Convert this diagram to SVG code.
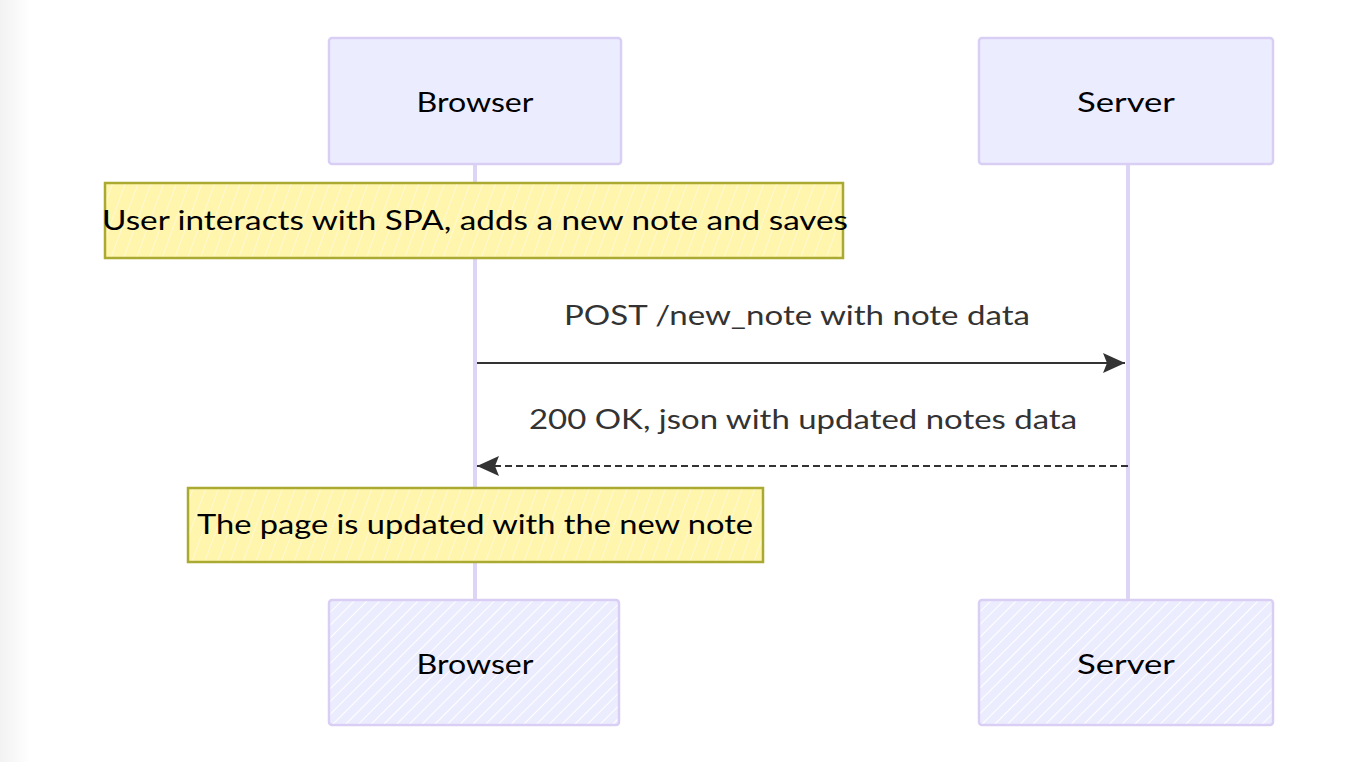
<svg xmlns="http://www.w3.org/2000/svg" width="1357" height="762" viewBox="0 0 1357 762">
<style>
.actor{fill:#ECECFF;stroke:#d9cff5;stroke-width:2.5}
.actorB{fill:url(#hatchA);stroke:#d9cff5;stroke-width:2.5}
.note{fill:url(#hatchN);stroke:#aaaa33;stroke-width:2.5}
.life{stroke:#ddd4f6;stroke-width:4}
.t{font-family:"Comic Sans MS","Lato","Open Sans",sans-serif;font-size:26px;fill:#000;text-anchor:middle}
.m{font-family:"Comic Sans MS","Lato","Open Sans",sans-serif;font-size:26px;fill:#333;text-anchor:middle}
.msg{stroke:#333;stroke-width:2;fill:none}
</style>
<defs>
<linearGradient id="edge" x1="0" x2="1" y1="0" y2="0">
<stop offset="0" stop-color="#f2f2f2"/><stop offset="1" stop-color="#ffffff"/>
</linearGradient>
<pattern id="hatchA" patternUnits="userSpaceOnUse" width="9" height="9" patternTransform="rotate(45)">
<rect width="9" height="9" fill="#ECECFF"/>
<line x1="0" y1="0" x2="0" y2="9" stroke="#ffffff" stroke-width="2"/>
</pattern>
<pattern id="hatchN" patternUnits="userSpaceOnUse" width="12" height="12" patternTransform="rotate(20)">
<rect width="12" height="12" fill="#fff5ad"/>
<line x1="0" y1="0" x2="0" y2="12" stroke="#fffbe0" stroke-width="1.5"/>
</pattern>
<marker id="arrow" viewBox="0 0 22 20" refX="22" refY="10" markerWidth="22" markerHeight="20" markerUnits="userSpaceOnUse" orient="auto">
<path d="M0,0 L22,10 L0,20 L4,10 Z" fill="#333"/>
</marker>
</defs>
<rect x="0" y="0" width="1357" height="762" fill="#ffffff"/>
<rect x="0" y="0" width="30" height="762" fill="url(#edge)"/>
<g id="lifelines">
<line class="life" x1="475" y1="164" x2="475" y2="600"/>
<line class="life" x1="1128" y1="164" x2="1128" y2="600"/>
</g>
<g id="browser-top">
<rect class="actor" x="329" y="38" width="292" height="126" rx="3"/>
<text class="t" x="475" y="112" textLength="117" lengthAdjust="spacingAndGlyphs">Browser</text>
</g>
<g id="server-top">
<rect class="actor" x="979" y="38" width="294" height="126" rx="3"/>
<text class="t" x="1126" y="112" textLength="98" lengthAdjust="spacingAndGlyphs">Server</text>
</g>
<g id="note1">
<rect class="note" x="105" y="183" width="738" height="75"/>
<text class="t" x="475" y="230" textLength="746" lengthAdjust="spacingAndGlyphs">User interacts with SPA, adds a new note and saves</text>
</g>
<g id="connectors">
<text class="m" x="797" y="325" textLength="466" lengthAdjust="spacingAndGlyphs">POST /new_note with note data</text>
<line class="msg" x1="477" y1="363" x2="1125" y2="363" marker-end="url(#arrow)"/>
<text class="m" x="803" y="429" textLength="548" lengthAdjust="spacingAndGlyphs">200 OK, json with updated notes data</text>
<line class="msg" x1="1128" y1="466" x2="477" y2="466" stroke-dasharray="7,4" marker-end="url(#arrow)"/>
</g>
<g id="note2">
<rect class="note" x="188" y="488" width="575" height="74"/>
<text class="t" x="475" y="534" textLength="556" lengthAdjust="spacingAndGlyphs">The page is updated with the new note</text>
</g>
<g id="browser-bottom">
<rect class="actorB" x="329" y="600" width="290" height="125" rx="3"/>
<text class="t" x="475" y="674" textLength="117" lengthAdjust="spacingAndGlyphs">Browser</text>
</g>
<g id="server-bottom">
<rect class="actorB" x="979" y="600" width="294" height="125" rx="3"/>
<text class="t" x="1126" y="674" textLength="98" lengthAdjust="spacingAndGlyphs">Server</text>
</g>
</svg>
